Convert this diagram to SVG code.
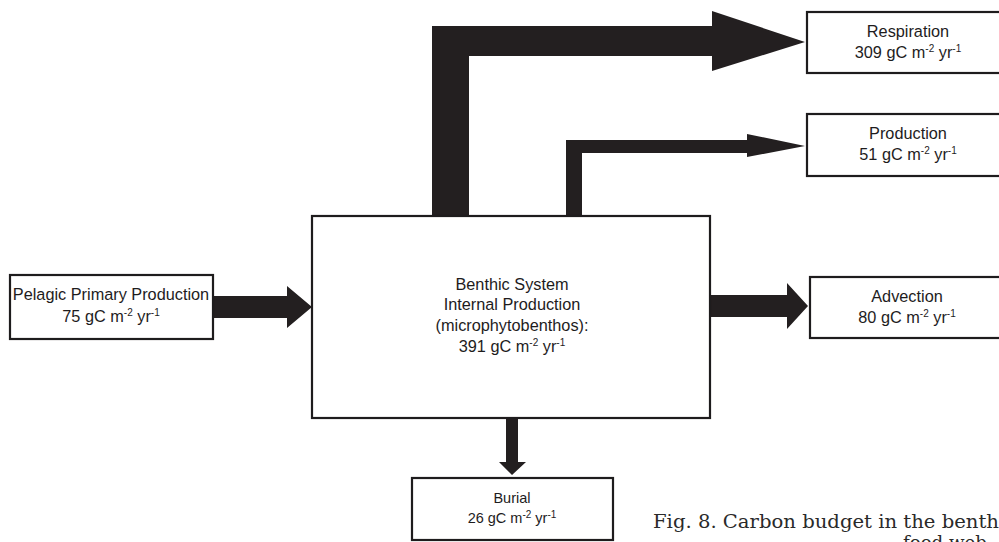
<svg xmlns="http://www.w3.org/2000/svg" width="999" height="542" viewBox="0 0 999 542">
<style>
.box{fill:#fff;stroke:#1e1c1d;stroke-width:2.2}
.arr{fill:#231f20}
.t{font-family:"Liberation Sans",Arial,sans-serif;font-size:16.3px;fill:#1e1c1d;text-anchor:middle}
.tb{font-family:"Liberation Sans",Arial,sans-serif;font-size:14.5px;fill:#1e1c1d;text-anchor:middle}
.sup{font-size:10px}
.cap{font-family:"DejaVu Serif","Liberation Serif",serif;font-size:18px;fill:#2a2a2a}
</style>
<rect width="999" height="542" fill="#fff"/>
<g id="connectors">
<path class="arr" d="M432,216 V26 H712 V11 L805,42 L712,71 V56 H469 V216 Z"/>
<path class="arr" d="M566,216 V140 H747 V134 L805,146 L747,157 V153 H582 V216 Z"/>
<path class="arr" d="M213,296 H287 V286 L312,307 L287,328 V318 H213 Z"/>
<path class="arr" d="M710,295 H787 V283 L808,306 L787,329 V317 H710 Z"/>
<path class="arr" d="M506,418 V462 H499 L512,475 L526,462 H518 V418 Z"/>
</g>
<g id="benthic">
<rect class="box" x="312" y="216" width="398" height="202"/>
<text class="t" x="512" y="290">Benthic System</text>
<text class="t" x="512" y="310">Internal Production</text>
<text class="t" x="512" y="331">(microphytobenthos):</text>
<text class="t" x="512" y="352">391 gC m<tspan class="sup" dy="-6">-2</tspan><tspan dy="6"> yr</tspan><tspan class="sup" dy="-6">-1</tspan></text>
</g>
<g id="pelagic">
<rect class="box" x="10" y="275" width="203" height="64"/>
<text class="t" x="111" y="300">Pelagic Primary Production</text>
<text class="t" x="111" y="322">75 gC m<tspan class="sup" dy="-6">-2</tspan><tspan dy="6"> yr</tspan><tspan class="sup" dy="-6">-1</tspan></text>
</g>
<g id="respiration">
<rect class="box" x="807" y="12" width="205" height="61"/>
<text class="t" x="908" y="37">Respiration</text>
<text class="t" x="908" y="58">309 gC m<tspan class="sup" dy="-6">-2</tspan><tspan dy="6"> yr</tspan><tspan class="sup" dy="-6">-1</tspan></text>
</g>
<g id="production">
<rect class="box" x="807" y="114" width="205" height="62"/>
<text class="t" x="908" y="139">Production</text>
<text class="t" x="908" y="160">51 gC m<tspan class="sup" dy="-6">-2</tspan><tspan dy="6"> yr</tspan><tspan class="sup" dy="-6">-1</tspan></text>
</g>
<g id="advection">
<rect class="box" x="810" y="277" width="205" height="61"/>
<text class="t" x="907" y="302">Advection</text>
<text class="t" x="907" y="323">80 gC m<tspan class="sup" dy="-6">-2</tspan><tspan dy="6"> yr</tspan><tspan class="sup" dy="-6">-1</tspan></text>
</g>
<g id="burial">
<rect class="box" x="412" y="478" width="201" height="62"/>
<text class="tb" x="512" y="503">Burial</text>
<text class="tb" x="512" y="523">26 gC m<tspan class="sup" dy="-5">-2</tspan><tspan dy="5"> yr</tspan><tspan class="sup" dy="-5">-1</tspan></text>
</g>
<g id="caption">
<text class="cap" x="653" y="528" textLength="346" lengthAdjust="spacingAndGlyphs">Fig. 8. Carbon budget in the benth</text>
<text class="cap" x="903" y="549" textLength="84" lengthAdjust="spacingAndGlyphs">food web</text>
</g>
</svg>
